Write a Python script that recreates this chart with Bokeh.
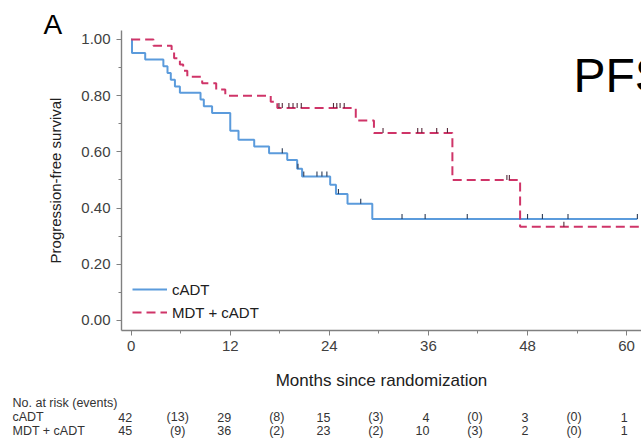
import numpy as np
from bokeh.plotting import figure
from bokeh.models import (Range1d, FixedTicker, NumeralTickFormatter,
                          Legend, LegendItem)
from bokeh.core.properties import value
from bokeh.embed import file_html
from bokeh.resources import INLINE

# ---------------- data ----------------
cadt_time = [0, 0.1, 1.7, 3.9, 4.4, 4.8, 5.3, 5.9, 8.4, 8.8, 9.8, 12.0, 13.0,
             14.9, 16.7, 18.9, 20.1, 20.7, 24.1, 24.8, 26.2, 29.2]
cadt_surv = [1.0, 0.952, 0.929, 0.905, 0.881, 0.857, 0.833, 0.810, 0.786, 0.762,
             0.738, 0.675, 0.643, 0.619, 0.595, 0.571, 0.540, 0.512, 0.483,
             0.450, 0.415, 0.361]
cadt_censor = [18.3, 20.2, 20.9, 22.5, 23.1, 23.7, 25.1, 27.8, 32.8, 35.6,
               40.7, 48.0, 49.8, 52.9, 61.3]
cadt_end = 61.3

mdt_time = [0, 2.7, 4.9, 5.2, 5.9, 6.3, 6.8, 8.6, 10.3, 11.4, 16.9, 17.7,
            27.2, 29.4, 38.9, 47.1]
mdt_surv = [1.0, 0.978, 0.956, 0.933, 0.911, 0.889, 0.867, 0.844, 0.822, 0.800,
            0.778, 0.756, 0.712, 0.667, 0.500, 0.333]
mdt_censor = [17.9, 18.3, 19.1, 19.6, 20.1, 20.6, 24.5, 24.9, 25.3, 25.8,
              30.5, 34.7, 35.2, 37.0, 38.3, 45.5, 45.8, 52.4]
mdt_end = 63.0

x_ticks = [0, 12, 24, 36, 48, 60]
x_minor = [6, 18, 30, 42, 54]
y_ticks = [0.0, 0.2, 0.4, 0.6, 0.8, 1.0]
y_minor = [0.1, 0.3, 0.5, 0.7, 0.9]

group_names = ["cADT", "MDT + cADT"]
cadt_at_risk = [42, 29, 15, 4, 3, 1]
cadt_events = [13, 8, 3, 0, 0]
mdt_at_risk = [45, 36, 23, 10, 2, 1]
mdt_events = [9, 2, 2, 3, 0]

BLUE = "#5b9bdc"
RED = "#cf3468"
FONT = "Liberation Sans"
W, H = 641, 439
# axes box in canvas pixels
LEFT, TOP, BOTTOM = 121, 30, 330

# axis extents (data)
x0, x1 = -1.17, 61.8
y0, y1 = -0.036, 1.032
ppx = (W - LEFT) / (x1 - x0)           # pixels per month
ppy = (BOTTOM - TOP) / (y1 - y0)       # pixels per survival unit


def xdata(px):
    return x0 + (px - LEFT) / ppx


def ydata(py):
    return y0 + (BOTTOM - py) / ppy


# the frame covers the whole canvas; axes are pinned with fixed_location
p = figure(width=W, height=H, output_backend="svg", toolbar_location=None,
           x_range=Range1d(xdata(0), xdata(W)), y_range=Range1d(ydata(H), ydata(0)),
           min_border_left=0, min_border_right=0, min_border_top=0,
           min_border_bottom=0)
p.outline_line_color = None
p.xgrid.visible = False
p.ygrid.visible = False
p.background_fill_color = "white"
p.border_fill_color = "white"

xa = p.xaxis[0]
ya = p.yaxis[0]
xa.fixed_location = y0
ya.fixed_location = x0
xa.bounds = (x0, x1)
ya.bounds = (y0, y1)

for ax in (xa, ya):
    ax.axis_line_color = "#808080"
    ax.axis_line_width = 1.4
    ax.major_tick_line_color = "#808080"
    ax.minor_tick_line_color = "#808080"
    ax.major_tick_out = 5
    ax.major_tick_in = 0
    ax.minor_tick_out = 3
    ax.minor_tick_in = 0
    ax.major_label_text_font = FONT
    ax.major_label_text_font_size = "15px"
    ax.major_label_text_color = "#404040"
    ax.axis_label_text_font = FONT
    ax.axis_label_text_font_style = "normal"
    ax.axis_label_text_color = "#202020"

xa.ticker = FixedTicker(ticks=x_ticks, minor_ticks=x_minor)
ya.ticker = FixedTicker(ticks=y_ticks, minor_ticks=y_minor)
ya.formatter = NumeralTickFormatter(format="0.00")
xa.axis_label = "Months since randomization"
ya.axis_label = "Progression-free survival"
xa.axis_label_text_font_size = "17px"
ya.axis_label_text_font_size = "15px"
xa.major_label_standoff = 5
ya.major_label_standoff = 6
xa.axis_label_standoff = 17
ya.axis_label_standoff = 14


def step_value(times, surv, t):
    idx = np.searchsorted(np.array(times), np.array(t), side="right") - 1
    return np.array(surv)[idx]


r_cadt = p.step(x=cadt_time + [cadt_end], y=cadt_surv + [cadt_surv[-1]],
                mode="after", line_color=BLUE, line_width=2)
r_mdt = p.step(x=mdt_time + [mdt_end], y=mdt_surv + [mdt_surv[-1]],
               mode="after", line_color=RED, line_width=2, line_dash="9 5")

tick_h = 0.018
cy = step_value(cadt_time, cadt_surv, cadt_censor)
p.segment(x0=cadt_censor, y0=cy, x1=cadt_censor, y1=cy + tick_h,
          line_color="#2a3a55", line_width=1.1)
my = step_value(mdt_time, mdt_surv, mdt_censor)
p.segment(x0=mdt_censor, y0=my, x1=mdt_censor, y1=my + tick_h,
          line_color="#552a3a", line_width=1.1)

legend = Legend(items=[LegendItem(label=group_names[0], renderers=[r_cadt]),
                       LegendItem(label=group_names[1], renderers=[r_mdt])],
                location=(LEFT + 11, H - BOTTOM + 8))
legend.border_line_color = None
legend.background_fill_alpha = 0
legend.padding = 5
legend.spacing = 3
legend.glyph_width = 35
legend.glyph_height = 20
legend.label_height = 20
legend.label_standoff = 5
legend.label_text_font = FONT
legend.label_text_font_size = "15px"
legend.label_text_color = "#202020"
legend.margin = 0
p.add_layout(legend, "center")

# panel letter and title fragment
p.text(x=[xdata(43)], y=[ydata(24)], text=["A"], text_font=value(FONT),
       text_font_size="28px", text_color="black", text_baseline="middle")
p.text(x=[xdata(573)], y=[ydata(75)], text=["PFS"], text_font=value(FONT),
       text_font_size="48px", text_color="black", text_baseline="middle")

# ---------------- risk table ----------------
TXT = "#333333"
TFS = "12.5px"
label_x = xdata(12)
row_y = [ydata(416.7), ydata(430)]
head_y = ydata(402.5)
p.text(x=[label_x, label_x, label_x], y=[head_y] + row_y,
       text=["No. at risk (events)"] + group_names,
       text_font=value(FONT), text_font_size=TFS, text_color=TXT,
       text_baseline="middle")

mid = [(a + b) / 2 for a, b in zip(x_ticks[:-1], x_ticks[1:])]
for ry, risk, ev in ((row_y[0], cadt_at_risk, cadt_events),
                     (row_y[1], mdt_at_risk, mdt_events)):
    p.text(x=x_ticks, y=[ry] * len(risk), text=[str(v) for v in risk],
           text_font=value(FONT), text_font_size=TFS, text_color=TXT,
           text_baseline="middle", text_align="right", x_offset=1)
    p.text(x=mid, y=[ry] * len(ev), text=["(%d)" % v for v in ev],
           text_font=value(FONT), text_font_size=TFS, text_color=TXT,
           text_baseline="middle", text_align="center", x_offset=-3)

open("out.html", "w").write(file_html(p, INLINE))
